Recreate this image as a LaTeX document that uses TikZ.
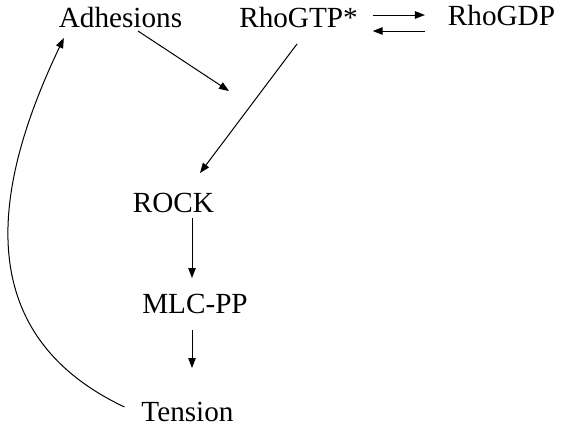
\documentclass[tikz,border=0pt]{standalone}
\usepackage{fontspec}
\setmainfont{Liberation Serif}
\usetikzlibrary{arrows.meta}

\begin{document}
\begin{tikzpicture}[x=1pt,y=-1pt,
    lbl/.style={inner sep=0pt,outer sep=0pt,text height=20pt,text depth=0pt,
        anchor=base,font=\fontsize{29.2}{35}\selectfont},
    arr/.style={line width=1pt,-{Triangle[length=10pt,width=7.5pt]}}]
    \useasboundingbox (0,0) rectangle (561,426);
    % labels
    \node [lbl] (adh) at (120.5,27) {Adhesions};
    \node [lbl] (rgtp) at (298.5,27) {RhoGTP*};
    \node [lbl] (rgdp) at (501.5,25) {RhoGDP};
    \node [lbl] (rock) at (173.5,212) {ROCK};
    \node [lbl] (mlc) at (195,313) {MLC-PP};
    \node [lbl] (ten) at (187.5,421) {Tension};
    \coordinate (adhend) at (229,91);
    % arrows
    \draw [arr] ([xshift=17.5pt,yshift=-4pt]adh.south) -- (adhend);
    \draw [arr] ([xshift=15pt,yshift=12pt]rgtp.base east) -- ([xshift=-23pt,yshift=10pt]rgdp.base west);
    \draw [arr] ([xshift=-23pt,yshift=-6pt]rgdp.base west) -- ([xshift=15pt,yshift=-4pt]rgtp.base east);
    \draw [arr] ([xshift=-1.5pt,yshift=-17pt]rgtp.south) -- ([xshift=26.5pt,yshift=19pt]rock.north);
    \draw [arr] ([xshift=18.5pt,yshift=-6pt]rock.south) -- ([xshift=-3pt,yshift=15pt]mlc.north);
    \draw [arr] ([xshift=-3pt,yshift=-17pt]mlc.south) -- ([xshift=4.5pt,yshift=33pt]ten.north);
    %\draw [arr] (ten) to[out=180,in=-70] (adh);
    \draw [arr] ([xshift=-17pt,yshift=4pt]ten.west) .. controls +(-165,-78) and +(-63,132) .. ([xshift=5pt,yshift=-11pt]adh.south west);
\end{tikzpicture}
\end{document}
